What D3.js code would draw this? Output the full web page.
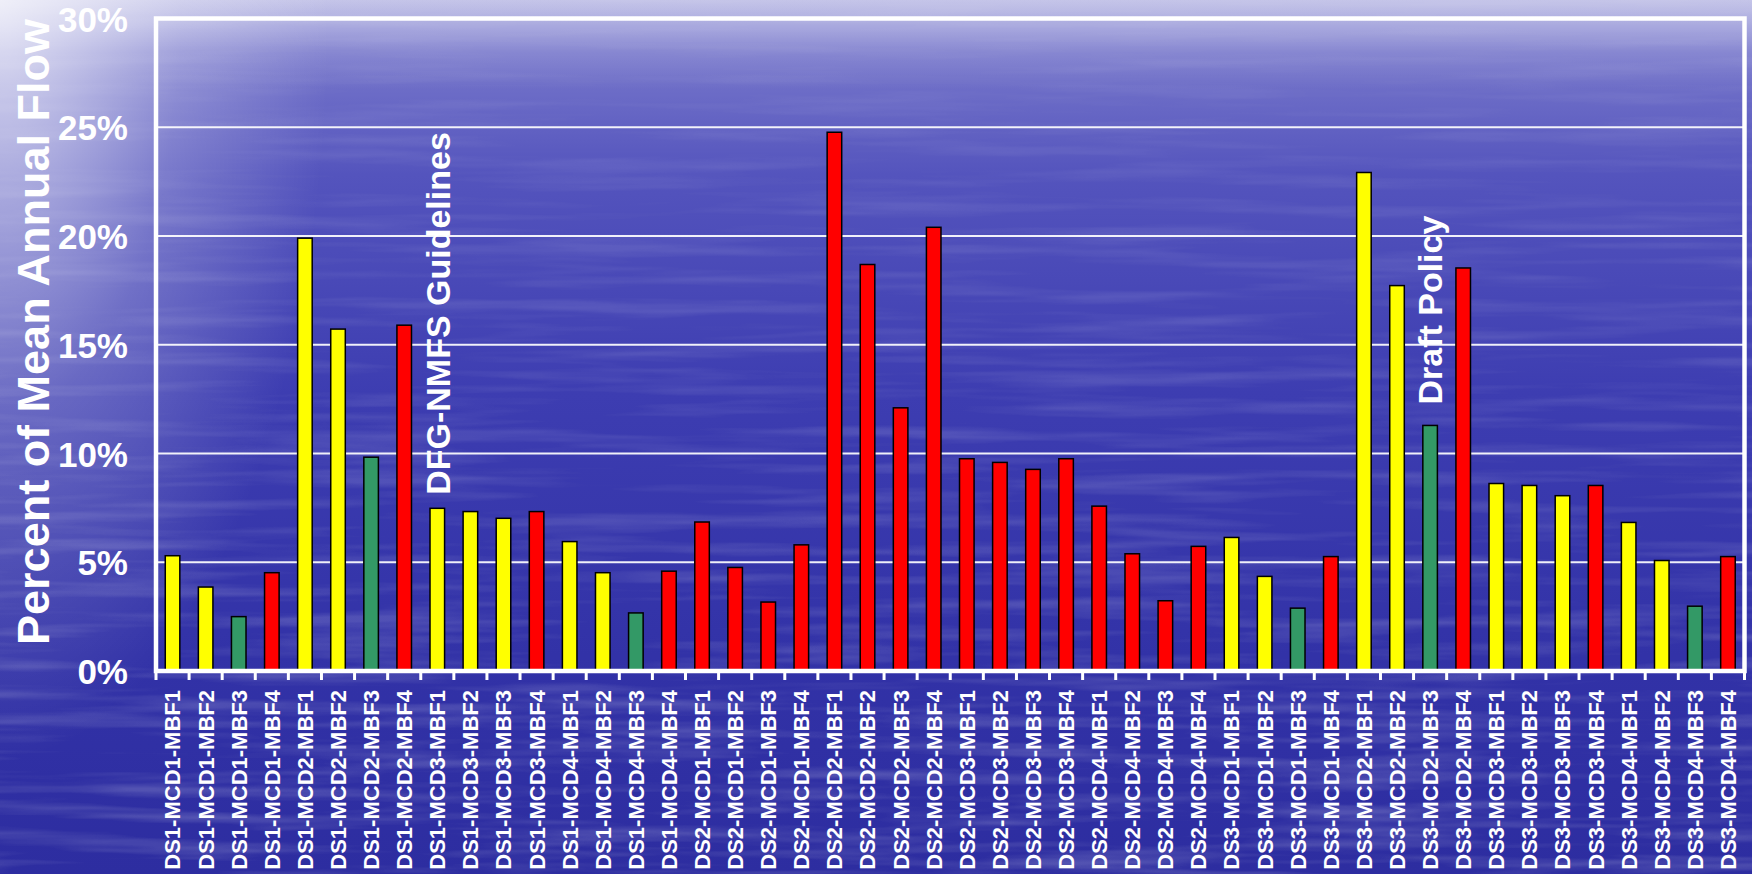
<!DOCTYPE html>
<html>
<head>
<meta charset="utf-8">
<script src="https://cdn.jsdelivr.net/npm/d3@7"></script>
<style>
  html, body { margin: 0; padding: 0; overflow: hidden; background: #3434a8; }
  svg { display: block; }
  text { font-family: "Liberation Sans", Arial, Helvetica, sans-serif; font-weight: bold; fill: #ffffff; }
</style>
</head>
<body>
<svg id="chart" width="1752" height="874"></svg>
<script>
// Scenario names (diversion scenario - minimum channel depth - minimum bypass flow)
const categories = [
  "DS1-MCD1-MBF1", "DS1-MCD1-MBF2", "DS1-MCD1-MBF3", "DS1-MCD1-MBF4",
  "DS1-MCD2-MBF1", "DS1-MCD2-MBF2", "DS1-MCD2-MBF3", "DS1-MCD2-MBF4",
  "DS1-MCD3-MBF1", "DS1-MCD3-MBF2", "DS1-MCD3-MBF3", "DS1-MCD3-MBF4",
  "DS1-MCD4-MBF1", "DS1-MCD4-MBF2", "DS1-MCD4-MBF3", "DS1-MCD4-MBF4",
  "DS2-MCD1-MBF1", "DS2-MCD1-MBF2", "DS2-MCD1-MBF3", "DS2-MCD1-MBF4",
  "DS2-MCD2-MBF1", "DS2-MCD2-MBF2", "DS2-MCD2-MBF3", "DS2-MCD2-MBF4",
  "DS2-MCD3-MBF1", "DS2-MCD3-MBF2", "DS2-MCD3-MBF3", "DS2-MCD3-MBF4",
  "DS2-MCD4-MBF1", "DS2-MCD4-MBF2", "DS2-MCD4-MBF3", "DS2-MCD4-MBF4",
  "DS3-MCD1-MBF1", "DS3-MCD1-MBF2", "DS3-MCD1-MBF3", "DS3-MCD1-MBF4",
  "DS3-MCD2-MBF1", "DS3-MCD2-MBF2", "DS3-MCD2-MBF3", "DS3-MCD2-MBF4",
  "DS3-MCD3-MBF1", "DS3-MCD3-MBF2", "DS3-MCD3-MBF3", "DS3-MCD3-MBF4",
  "DS3-MCD4-MBF1", "DS3-MCD4-MBF2", "DS3-MCD4-MBF3", "DS3-MCD4-MBF4"
];

// Percent of mean annual flow for each scenario
const values = [
  5.30, 3.86, 2.50, 4.52,
  19.9, 15.72, 9.83, 15.9,
  7.48, 7.33, 7.02, 7.33,
  5.95, 4.52, 2.67, 4.59,
  6.85, 4.76, 3.17, 5.80,
  24.77, 18.69, 12.1, 20.4,
  9.76, 9.59, 9.27, 9.76,
  7.58, 5.39, 3.23, 5.73,
  6.14, 4.35, 2.89, 5.26,
  22.92, 17.72, 11.29, 18.53,
  8.62, 8.53, 8.06, 8.53,
  6.83, 5.08, 2.98, 5.26
];

// Rating of each scenario, shown as the bar colour
const ratings = [
  "yellow", "yellow", "green", "red",
  "yellow", "yellow", "green", "red",
  "yellow", "yellow", "yellow", "red",
  "yellow", "yellow", "green", "red",
  "red", "red", "red", "red",
  "red", "red", "red", "red",
  "red", "red", "red", "red",
  "red", "red", "red", "red",
  "yellow", "yellow", "green", "red",
  "yellow", "yellow", "green", "red",
  "yellow", "yellow", "yellow", "red",
  "yellow", "yellow", "green", "red"
];

const yTicks = [0, 5, 10, 15, 20, 25, 30];
const yTitle = "Percent of Mean Annual Flow";

// Reference criteria written next to the scenario they refer to
const noteLabels = ["DFG-NMFS Guidelines", "Draft Policy"];
const noteCategories = ["DS1-MCD3-MBF1", "DS3-MCD2-MBF3"];
const noteStarts = [8.1, 12.25];

const W = 1752, H = 874;
const plot = { left: 156, right: 1744.5, top: 18.5, bottom: 671 };

const svg = d3.select("#chart");
const defs = svg.append("defs");

// ---- water-like backdrop ----
const baseGrad = defs.append("linearGradient")
  .attr("id", "sea").attr("x1", 0).attr("y1", 0).attr("x2", 0).attr("y2", 1);
[[0, "#aeaee0"], [0.025, "#9898d8"], [0.06, "#7777cb"], [0.2, "#5454bd"],
 [0.45, "#3d3db1"], [0.75, "#3232a7"], [1, "#2d2da0"]]
  .forEach(([o, c]) => baseGrad.append("stop").attr("offset", o).attr("stop-color", c));

const glow = defs.append("radialGradient")
  .attr("id", "glow").attr("gradientUnits", "userSpaceOnUse")
  .attr("cx", 0).attr("cy", 0).attr("r", 1)
  .attr("gradientTransform", "translate(0,0) scale(330,760)");
[[0, 0.72], [0.25, 0.5], [0.55, 0.22], [1, 0]]
  .forEach(([o, a]) => glow.append("stop").attr("offset", o)
    .attr("stop-color", "#ffffff").attr("stop-opacity", a));

const topHaze = defs.append("linearGradient")
  .attr("id", "topHaze").attr("x1", 0).attr("y1", 0).attr("x2", 0).attr("y2", 1);
[[0, 0.28], [1, 0]].forEach(([o, a]) => topHaze.append("stop").attr("offset", o)
  .attr("stop-color", "#ffffff").attr("stop-opacity", a));

// ripples fade in towards the lower part of the backdrop
const rippleFade = defs.append("linearGradient")
  .attr("id", "rippleFade").attr("x1", 0).attr("y1", 0).attr("x2", 0).attr("y2", 1);
[[0, 0.25], [0.35, 0.55], [1, 1]].forEach(([o, a]) => rippleFade.append("stop")
  .attr("offset", o).attr("stop-color", "#ffffff").attr("stop-opacity", a));
defs.append("mask").attr("id", "rippleMask")
  .append("rect").attr("width", W).attr("height", H).attr("fill", "url(#rippleFade)");

const ripple = defs.append("filter").attr("id", "ripple")
  .attr("x", 0).attr("y", 0).attr("width", "100%").attr("height", "100%");
ripple.append("feTurbulence").attr("type", "fractalNoise")
  .attr("baseFrequency", "0.004 0.07").attr("numOctaves", 3).attr("seed", 11);
ripple.append("feColorMatrix").attr("type", "matrix")
  .attr("values", "0 0 0 0 1  0 0 0 0 1  0 0 0 0 1  2.6 0 0 0 -1.15");

svg.append("rect").attr("width", W).attr("height", H).attr("fill", "url(#sea)");
svg.append("g").attr("mask", "url(#rippleMask)")
  .append("rect").attr("width", W).attr("height", H)
  .attr("filter", "url(#ripple)").attr("opacity", 0.18);
svg.append("rect").attr("width", W).attr("height", 90).attr("fill", "url(#topHaze)");
svg.append("rect").attr("width", W).attr("height", H).attr("fill", "url(#glow)");

// ---- scales ----
const x = d3.scaleBand().domain(categories).range([plot.left, plot.right]);
const y = d3.scaleLinear().domain([0, 30]).range([plot.bottom, plot.top]);
const colour = d3.scaleOrdinal()
  .domain(["yellow", "green", "red"])
  .range(["#ffff00", "#339966", "#ff0000"]);

// ---- gridlines ----
svg.append("g")
  .selectAll("line")
  .data(yTicks.filter(t => t > 0 && t < 30))
  .join("line")
  .attr("x1", plot.left).attr("x2", plot.right)
  .attr("y1", d => y(d)).attr("y2", d => y(d))
  .attr("stroke", "#ffffff").attr("stroke-opacity", 0.92).attr("stroke-width", 1.8);

// ---- bars ----
const barW = x.bandwidth() * 0.44;
svg.append("g")
  .selectAll("rect")
  .data(categories.map((c, i) => ({ c, v: values[i], r: ratings[i] })))
  .join("rect")
  .attr("x", d => x(d.c) + (x.bandwidth() - barW) / 2)
  .attr("width", barW)
  .attr("y", d => y(d.v))
  .attr("height", d => y(0) - y(d.v))
  .attr("fill", d => colour(d.r))
  .attr("stroke", "#000000").attr("stroke-width", 1.5);

// ---- frame ----
svg.append("rect")
  .attr("x", plot.left).attr("y", plot.top)
  .attr("width", plot.right - plot.left).attr("height", plot.bottom - plot.top)
  .attr("fill", "none").attr("stroke", "#ffffff").attr("stroke-width", 4.5);

// ---- y axis ----
const yAxis = svg.append("g")
  .attr("transform", `translate(${plot.left},0)`)
  .call(d3.axisLeft(y).tickValues(yTicks).tickFormat(d => d + "%").tickSize(0).tickPadding(28));
yAxis.select(".domain").remove();
yAxis.selectAll("text")
  .attr("fill", "#ffffff").attr("font-size", 35).attr("dy", "0.36em")
  .style("font-family", '"Liberation Sans", Arial, sans-serif').style("font-weight", "bold");

// ---- x axis: ticks sit on the band boundaries, labels run upward ----
svg.append("g")
  .selectAll("line")
  .data(categories.map(c => x(c)).concat([plot.right]))
  .join("line")
  .attr("x1", d => d).attr("x2", d => d)
  .attr("y1", plot.bottom).attr("y2", plot.bottom + 9)
  .attr("stroke", "#ffffff").attr("stroke-width", 3);

const xAxis = svg.append("g")
  .attr("transform", `translate(0,${plot.bottom})`)
  .call(d3.axisBottom(x).tickSize(0).tickSizeOuter(0));
xAxis.select(".domain").remove();
xAxis.selectAll("text")
  .attr("transform", "rotate(-90)")
  .attr("text-anchor", "end")
  .attr("x", -19).attr("y", 0).attr("dy", "0.36em")
  .attr("fill", "#ffffff").attr("font-size", 22)
  .style("font-family", '"Liberation Sans", Arial, sans-serif').style("font-weight", "bold");

// ---- y title ----
svg.append("text")
  .attr("transform", `translate(49,${(18 + 646) / 2}) rotate(-90)`)
  .attr("text-anchor", "middle")
  .attr("font-size", 45)
  .text(yTitle);

// ---- criteria notes ----
svg.append("g")
  .selectAll("text")
  .data(noteLabels.map((t, i) => ({ t, c: noteCategories[i], s: noteStarts[i] })))
  .join("text")
  .attr("transform", d => `translate(${x(d.c) + x.bandwidth() / 2},${y(d.s)}) rotate(-90)`)
  .attr("dy", "0.36em")
  .attr("font-size", 34)
  .text(d => d.t);
</script>
</body>
</html>
